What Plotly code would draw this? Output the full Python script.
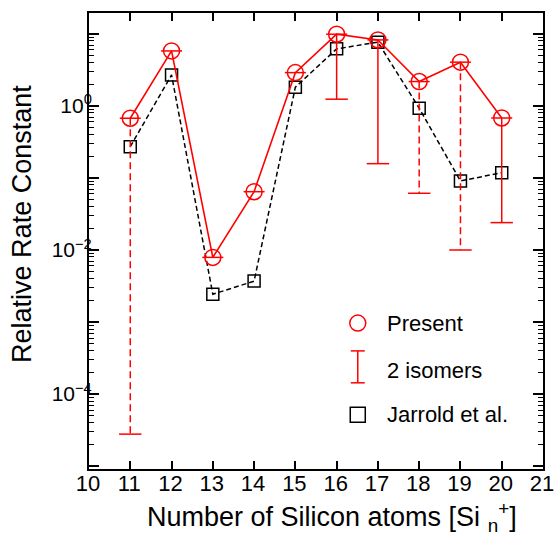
import plotly.graph_objects as go

# ---- data ----
n_atoms = [11, 12, 13, 14, 15, 16, 17, 18, 19, 20]
present = [0.675, 5.8, 0.0079, 0.0645, 2.9, 9.9, 8.25, 2.18, 4.05, 0.68]
jarrold = [0.272, 2.69, 0.00243, 0.0037, 1.82, 6.2, 7.67, 0.93, 0.0908, 0.1185]
isomer_n = [11, 16, 17, 18, 19, 20]
isomer_low = [2.78e-5, 1.24, 0.158, 0.0613, 0.0100, 0.024]
isomer_dashed = [True, False, False, True, True, False]
y_major_exp = [-5, -4, -3, -2, -1, 0, 1]
y_label_exp = [-4, -2, 0]

RED = "#ff0000"
FONT = "Liberation Sans, Arial, sans-serif"

fig = go.Figure()

# Jarrold et al. (black dashed, open squares)
fig.add_trace(go.Scatter(
    x=n_atoms, y=jarrold, mode="lines+markers",
    line=dict(color="black", width=1.5, dash="5px,3px"),
    marker=dict(symbol="square-open", size=12, color="black", line=dict(width=1.5)),
    showlegend=False))

# isomer bars
pres_map = dict(zip(n_atoms, present))
for dashed in (False, True):
    xs, ys = [], []
    for xi, lo, d in zip(isomer_n, isomer_low, isomer_dashed):
        if d == dashed:
            xs += [xi, xi, None]
            ys += [pres_map[xi], lo, None]
    fig.add_trace(go.Scatter(
        x=xs, y=ys, mode="lines",
        line=dict(color=RED, width=1.5, dash="7px,4px" if dashed else "solid"),
        showlegend=False, hoverinfo="skip"))

# lower caps
fig.add_trace(go.Scatter(
    x=isomer_n, y=isomer_low, mode="markers",
    marker=dict(symbol="line-ew", size=16, color=RED, line=dict(color=RED, width=1.5)),
    showlegend=False, hoverinfo="skip"))

# Present (red solid, open circles) with top caps through circles
fig.add_trace(go.Scatter(
    x=n_atoms, y=present, mode="lines+markers",
    line=dict(color=RED, width=1.6),
    marker=dict(symbol="circle-open", size=16, color=RED, line=dict(width=1.5)),
    showlegend=False))
fig.add_trace(go.Scatter(
    x=n_atoms, y=present, mode="markers",
    marker=dict(symbol="line-ew", size=15, color=RED, line=dict(color=RED, width=1.5)),
    showlegend=False, hoverinfo="skip"))

minor_vals = [m * 10 ** e for e in range(-6, 2) for m in range(2, 10)]
fig.update_xaxes(
    range=[10, 21], tickmode="linear", tick0=10, dtick=1,
    ticks="inside", ticklen=8, tickwidth=1.5, tickcolor="black",
    showline=True, linecolor="black", linewidth=2, mirror="ticks",
    showgrid=False, zeroline=False, ticklabelstandoff=-6, ticklabelshift=-1,
    ticklabeloverflow="allow", automargin=False,
    tickfont=dict(family=FONT, size=22, color="black"))
fig.update_yaxes(
    type="log", range=[-5.04, 1.29],
    tickmode="array",
    tickvals=[10 ** e for e in y_major_exp],
    ticktext=[("10<sup>" + ("\u2212" if e < 0 else "") + str(abs(e)) + "</sup>") if e in y_label_exp else ""
              for e in y_major_exp],
    ticks="inside", ticklen=10, tickwidth=1.5, tickcolor="black",
    minor=dict(tickmode="array", tickvals=minor_vals, ticks="inside", ticklen=5,
               tickwidth=1.2, tickcolor="black", showgrid=False),
    showline=True, linecolor="black", linewidth=2, mirror="ticks",
    showgrid=False, zeroline=False, ticklabelstandoff=-9, automargin=False,
    tickfont=dict(family=FONT, size=21, color="black"))

L, R, T, B = 89, 12, 13, 68
fig.update_layout(
    width=555, height=537,
    margin=dict(l=L, r=R, t=T, b=B, autoexpand=False),
    paper_bgcolor="white", plot_bgcolor="white",
    showlegend=False,
    font=dict(family=FONT, color="black"),
)

# axis titles
fig.add_annotation(
    text="Number of Silicon atoms [Si <sub>n</sub><sup>+</sup>]",
    xref="paper", yref="paper", x=0.1235, y=-0.106, xanchor="left", yanchor="middle",
    showarrow=False, font=dict(family=FONT, size=27, color="black"))
fig.add_annotation(
    text="Relative Rate Constant", textangle=-90,
    xref="paper", yref="paper", x=-0.148, y=0.537, xanchor="center", yanchor="middle",
    showarrow=False, font=dict(family=FONT, size=27, color="black"))

# manual legend
lx = 0.592
leg_items = [("Present", 0.318), ("2 isomers", 0.215), ("Jarrold et al.", 0.119)]
for txt, yy in leg_items:
    fig.add_annotation(text=txt, xref="paper", yref="paper", x=0.652, y=yy,
                       xanchor="left", yanchor="middle", showarrow=False,
                       font=dict(family=FONT, size=22, color="black"))
fig.add_shape(type="circle", xref="paper", yref="paper", xsizemode="pixel", ysizemode="pixel",
              xanchor=lx, yanchor=0.320, x0=-8, x1=8, y0=-8, y1=8,
              line=dict(color=RED, width=1.5))
fig.add_shape(type="line", xref="paper", yref="paper", x0=lx, x1=lx, y0=0.189, y1=0.259,
              line=dict(color=RED, width=1.5))
for yy in (0.189, 0.259):
    fig.add_shape(type="line", xref="paper", yref="paper", xsizemode="pixel",
                  xanchor=lx, x0=-7, x1=7, y0=yy, y1=yy, line=dict(color=RED, width=1.5))
fig.add_shape(type="rect", xref="paper", yref="paper", xsizemode="pixel", ysizemode="pixel",
              xanchor=lx, yanchor=0.119, x0=-7.5, x1=7.5, y0=-7.5, y1=7.5,
              line=dict(color="black", width=1.5))

fig.write_html("out.html")
